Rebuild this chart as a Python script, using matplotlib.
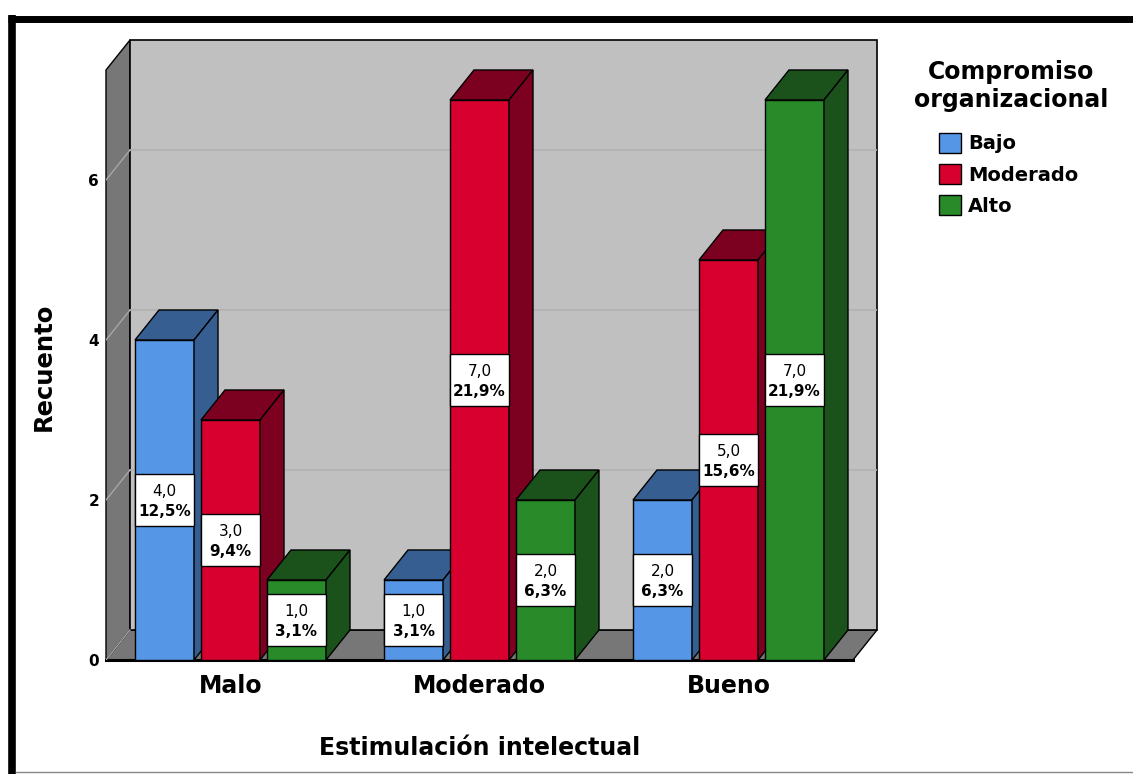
import matplotlib.pyplot as plt
from matplotlib.patches import Polygon, Rectangle, Patch
from matplotlib.lines import Line2D

plt.rcParams['font.family'] = ['DejaVu Sans']

# data
categories = ['Malo', 'Moderado', 'Bueno']
series = ['Bajo', 'Moderado', 'Alto']
bajo = [4, 1, 2]
moderado = [3, 7, 5]
alto = [1, 2, 7]
pct_bajo = ['12,5%', '3,1%', '6,3%']
pct_moderado = ['9,4%', '21,9%', '15,6%']
pct_alto = ['3,1%', '6,3%', '21,9%']
y_ticks = [0, 2, 4, 6]
y_max = 7.375

values = [bajo, moderado, alto]
pcts = [pct_bajo, pct_moderado, pct_alto]
front_cols = ['#5596E6', '#D7002F', '#298A29']
dark_cols = ['#375E91', '#7C0020', '#1B521B']

# oblique depth offset (data units) and bar layout
dx, dy = 0.0964, 0.375
step, w = 0.265, 0.237

fig = plt.figure(figsize=(11.33, 7.74), dpi=100)
ax = fig.add_axes([106 / 1133, 114 / 774, 771 / 1133, 620 / 774])
ax.set_xlim(-0.5, 2.5 + dx)
ax.set_ylim(0, y_max + dy)
for s in ax.spines.values():
    s.set_visible(False)
ax.set_facecolor('none')

x_l, x_r = -0.5, 2.5
# floor, left wall, back wall
ax.add_patch(Polygon([(x_l, 0), (x_r, 0), (x_r + dx, dy), (x_l + dx, dy)],
                     fc='#777777', ec='black', lw=1, clip_on=False, zorder=1))
ax.add_patch(Polygon([(x_l, 0), (x_l, y_max), (x_l + dx, y_max + dy), (x_l + dx, dy)],
                     fc='#777777', ec='black', lw=1, clip_on=False, zorder=1))
ax.add_patch(Rectangle((x_l + dx, dy), x_r - x_l, y_max,
                       fc='#C0C0C0', ec='black', lw=1.2, clip_on=False, zorder=1))
ax.plot([x_l, x_r], [0, 0], color='black', lw=2.2, zorder=2, clip_on=False)

for t in y_ticks:
    ax.plot([x_l, x_l + dx], [t, t + dy], color='#A8A8A8', lw=1, zorder=2)
    if t > 0:
        ax.plot([x_l + dx, x_r + dx], [t + dy, t + dy], color='#B2B2B2', lw=1.2, zorder=2)

# bars
z = 3
for i in range(len(categories)):
    for j in range(len(series)):
        v = values[j][i]
        x0 = i + (j - 1) * step - w / 2
        ax.add_patch(Rectangle((x0, 0), w, v, fc=front_cols[j], ec='black',
                               lw=1, zorder=z, clip_on=False))
        ax.add_patch(Polygon([(x0, v), (x0 + dx, v + dy), (x0 + w + dx, v + dy), (x0 + w, v)],
                             fc=dark_cols[j], ec='black', lw=1, zorder=z, clip_on=False))
        ax.add_patch(Polygon([(x0 + w, 0), (x0 + w, v), (x0 + w + dx, v + dy), (x0 + w + dx, dy)],
                             fc=dark_cols[j], ec='black', lw=1, zorder=z, clip_on=False))
        # value label box
        ax.add_patch(Rectangle((x0, v / 2 - 0.325), w, 0.65, fc='white', ec='black',
                               lw=1, zorder=30))
        ax.text(x0 + w / 2, v / 2 + 0.11, f'{v:.1f}'.replace('.', ','),
                ha='center', va='center', fontsize=11, zorder=31)
        ax.text(x0 + w / 2, v / 2 - 0.14, pcts[j][i], ha='center', va='center',
                fontsize=11, fontweight='bold', zorder=31)
        z += 1

ax.set_yticks(y_ticks)
ax.set_yticklabels([str(t) for t in y_ticks], fontweight='bold', fontsize=11)
ax.set_xticks(range(len(categories)))
ax.set_xticklabels(categories, fontweight='bold', fontsize=17)
ax.tick_params(axis='y', length=0, pad=5)
ax.tick_params(axis='x', length=0, pad=10)

ax.set_xlabel('Estimulación intelectual', fontweight='bold', fontsize=17)
ax.xaxis.set_label_coords((480 - 106) / 771, (660 - 748) / 620)
ax.xaxis.label.set_va('center')
ax.set_ylabel('Recuento', fontweight='bold', fontsize=17.5)
ax.yaxis.set_label_coords((44 - 106) / 771, (660 - 367) / 620)
ax.yaxis.label.set_va('center')

# legend: title as its own text, entries below it
fig.text(1011 / 1133, 1 - 86 / 774, 'Compromiso\norganizacional', ha='center',
         va='center', multialignment='center', fontsize=17, fontweight='bold',
         linespacing=1.2)
handles = [Patch(fc=c, ec='black', lw=1) for c in front_cols]
fig.legend(handles, series, loc='upper left',
           bbox_to_anchor=(939 / 1133, 1 - 133 / 774),
           frameon=False, borderpad=0, borderaxespad=0,
           prop={'weight': 'bold', 'size': 14},
           handlelength=1.13, handleheight=1.18, handletextpad=0.36,
           labelspacing=0.55)

# outer frame
fig.add_artist(Line2D([8 / 1133, 1], [1 - 18.5 / 774] * 2, color='black', lw=5,
                      solid_capstyle='butt'))
fig.add_artist(Line2D([12 / 1133] * 2, [1 - 15 / 774, 0], color='black', lw=5.5,
                      solid_capstyle='butt'))
fig.add_artist(Line2D([16 / 1133, 1], [2.5 / 774] * 2, color='#888888', lw=1))

fig.savefig('out.png', dpi=100)
